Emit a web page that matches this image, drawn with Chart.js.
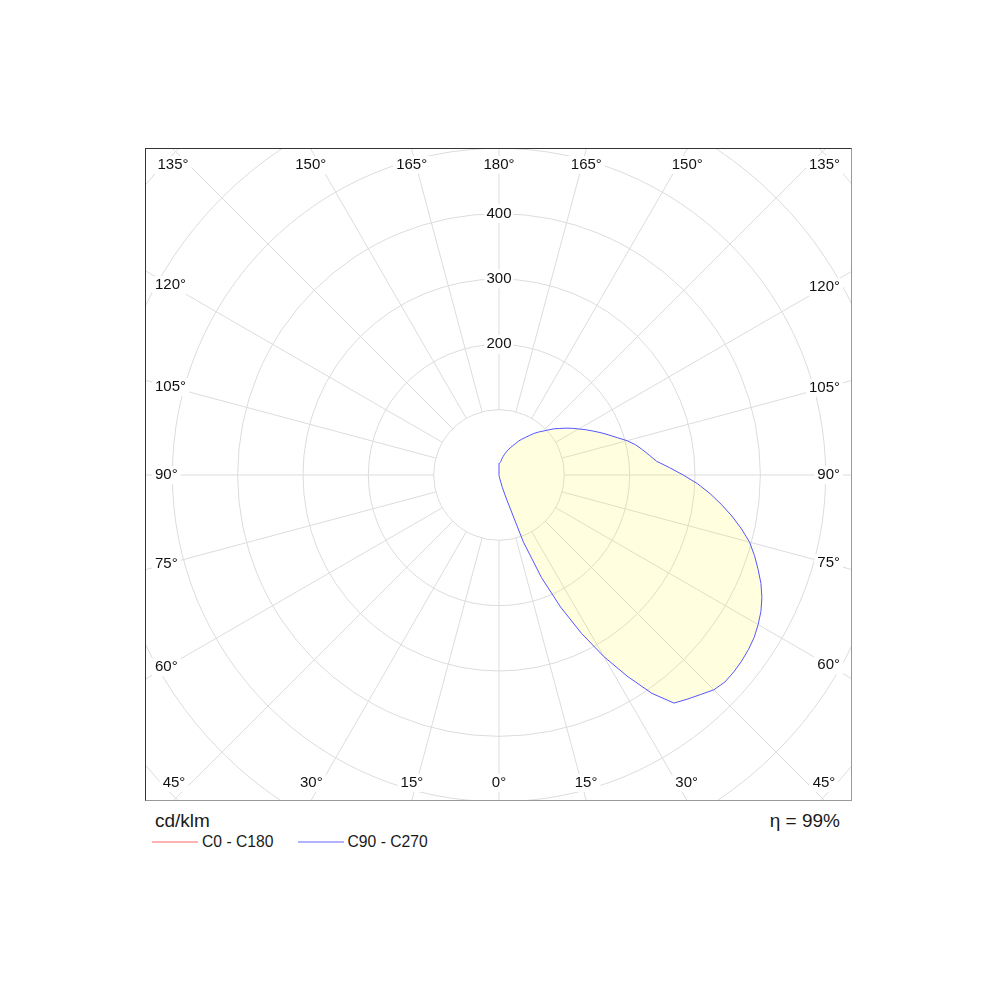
<!DOCTYPE html>
<html>
<head>
<meta charset="utf-8">
<script src="https://cdn.jsdelivr.net/npm/chart.js@4.4.1/dist/chart.umd.min.js"></script>
<style>
  body { margin: 0; background: #fff; font-family: "Liberation Sans", Arial, sans-serif; color: #1a1a1a; }
  #box {
    position: absolute; left: 145px; top: 148px; width: 705px; height: 651px;
    overflow: hidden; border: 1px solid #999; border-top-color: #333; border-left-color: #333;
  }
  #wrap { position: absolute; left: -147px; top: -174px; width: 1000px; height: 1000px; }
  #unit { position: absolute; left: 155px; top: 811px; font-size: 19px; line-height: 19px; }
  #eta { position: absolute; right: 160px; top: 811px; font-size: 19px; line-height: 19px; }
  #legend { position: absolute; left: 152px; top: 834px; font-size: 15.7px; line-height: 15px; display: flex; }
  .item { display: flex; align-items: center; margin-right: 24px; }
  .swatch { width: 46px; height: 0; border-top: 2px solid; margin-right: 4px; opacity: .45; }
</style>
</head>
<body>
<div id="box"><div id="wrap"><canvas id="polar"></canvas></div></div>
<div id="unit">cd/klm</div>
<div id="eta">η = 99%</div>
<div id="legend"></div>
<script>
// gamma angles: C90 half from the top (180) down to 0, then the C270 half from 2.5 back up to 177.5
const gammaC90 = [180, 177.5, 175, 172.5, 170, 167.5, 165, 162.5, 160, 157.5, 155, 152.5, 150, 147.5,
  145, 142.5, 140, 137.5, 135, 132.5, 130, 127.5, 125, 122.5, 120, 117.5, 115, 112.5, 110, 107.5,
  105, 102.5, 100, 97.5, 95, 92.5, 90, 87.5, 85, 82.5, 80, 77.5, 75, 72.5, 70, 67.5, 65, 62.5,
  60, 57.5, 55, 52.5, 50, 47.5, 45, 42.5, 40, 37.5, 35, 32.5, 30, 27.5, 25, 22.5, 20, 17.5,
  15, 12.5, 10, 7.5, 5, 2.5, 0];
const gammaC270 = [2.5, 5, 7.5, 10, 12.5, 15, 17.5, 20, 22.5, 25, 27.5, 30, 32.5, 35, 37.5, 40,
  42.5, 45, 47.5, 50, 52.5, 55, 57.5, 60, 62.5, 65, 67.5, 70, 72.5, 75, 77.5, 80, 82.5, 85,
  87.5, 90, 92.5, 95, 97.5, 100, 102.5, 105, 107.5, 110, 112.5, 115, 117.5, 120, 122.5, 125,
  127.5, 130, 132.5, 135, 137.5, 140, 142.5, 145, 147.5, 150, 152.5, 155, 157.5, 160, 162.5,
  165, 167.5, 170, 172.5, 175, 177.5];

// cd/klm
const c90Values = [18, 18, 19, 21, 25, 29, 33, 37, 41, 45,
  49, 54, 60, 65, 70, 76, 83, 89, 95, 102,
  110, 117, 125, 133, 141, 150, 159, 169, 179, 190,
  203, 214, 223, 232, 242, 261, 282, 304, 324, 343,
  362, 380, 397, 410, 422, 434, 444, 452, 458, 463,
  466, 468, 469, 469, 465, 456, 448, 440, 408, 365,
  321, 273, 223, 170, 109, 40, 20, 6, 3, 1,
  0, 0, 0];
const c270Values = [0, 0, 0, 0, 0, 0, 0, 0, 0, 0, 0, 0, 0, 0, 0, 0, 0, 0, 0, 0, 0, 0, 0, 0,
  0, 0, 0, 0, 0, 0, 0, 0, 0, 0, 0, 0, 0, 0, 0, 0, 0, 0, 0, 0, 0, 0, 0, 0,
  0, 0, 0, 0, 0, 0, 0, 0, 0, 0, 0, 0, 0, 0, 0, 0, 0, 0, 0, 0, 0, 0, 0];
const c0c180Values = []; // no C0-C180 curve shows in the picture

const ringLabels = [200, 300, 400];
const SPOKE_EVERY = 6; // 6 x 2.5 deg = 15 deg

Chart.defaults.font.family = '"Liberation Sans", Arial, sans-serif';

// angle labels sit on the frame, where each 15 deg spoke leaves it
const angleLabels = {
  id: 'angleLabels',
  afterDraw(chart) {
    const r = chart.scales.r;
    const ctx = chart.ctx;
    const box = document.getElementById('box');
    const b = box.getBoundingClientRect(), c = chart.canvas.getBoundingClientRect();
    const L = b.left + box.clientLeft - c.left, T = b.top + box.clientTop - c.top;
    const R = L + box.clientWidth, B = T + box.clientHeight;
    ctx.save();
    ctx.font = '15px "Liberation Sans", Arial, sans-serif';
    ctx.textBaseline = 'middle';
    ctx.textAlign = 'center';
    chart.data.labels.forEach((text, i) => {
      if (i % SPOKE_EVERY) return;
      const p = r.getPointPosition(i, 100);
      let dx = (p.x - r.xCenter) / 100, dy = (p.y - r.yCenter) / 100;
      if (Math.abs(dx) < 1e-6) dx = 0;
      if (Math.abs(dy) < 1e-6) dy = 0;
      const w = ctx.measureText(text).width;
      const tx = dx > 0 ? (R - r.xCenter) / dx : dx < 0 ? (L - r.xCenter) / dx : Infinity;
      const ty = dy > 0 ? (B - r.yCenter) / dy : dy < 0 ? (T - r.yCenter) / dy : Infinity;
      let x, y;
      if (ty <= tx) {
        y = dy < 0 ? T + 16 : B - 17;
        x = Math.min(Math.max(r.xCenter + dx * ty, L + 9 + w / 2), R - 11 - w / 2);
      } else {
        x = dx < 0 ? L + 9 + w / 2 : R - 11 - w / 2;
        y = r.yCenter + dy * (x - r.xCenter) / dx;
      }
      ctx.fillStyle = '#fff';
      ctx.fillRect(x - w / 2 - 3, y - 9, w + 6, 18);
      ctx.fillStyle = '#111';
      ctx.fillText(text, x, y);
    });
    ctx.restore();
  }
};

const chart = new Chart(document.getElementById('polar'), {
  type: 'radar',
  data: {
    labels: gammaC90.concat(gammaC270).map(g => g + '°'),
    datasets: [{
      label: 'C0 - C180',
      data: c0c180Values,
      borderColor: '#ff5555',
      backgroundColor: 'rgba(255,85,85,0.1)',
      borderWidth: 1,
      pointRadius: 0,
      fill: true
    }, {
      label: 'C90 - C270',
      data: c90Values.concat(c270Values),
      borderColor: '#5555ff',
      backgroundColor: 'rgba(255,255,0,0.12)',
      borderWidth: 1,
      pointRadius: 0,
      fill: true
    }]
  },
  options: {
    responsive: true,
    maintainAspectRatio: false,
    animation: false,
    elements: { line: { tension: 0 } },
    plugins: {
      legend: { display: false },
      tooltip: { enabled: false }
    },
    scales: {
      r: {
        min: 0,
        max: 750,
        grid: { circular: true, color: '#dcdcdc' },
        angleLines: {
          color: '#dcdcdc',
          lineWidth: (ctx) => ctx.index % SPOKE_EVERY === 0 ? 1 : 0,
          // spokes start at the 100 ring
          borderDash: (ctx) => [0, ctx.chart.scales.r.getDistanceFromCenterForValue(100), 3000, 0]
        },
        pointLabels: { display: false },
        ticks: {
          stepSize: 100,
          color: '#111',
          font: { size: 15 },
          backdropColor: '#fff',
          backdropPadding: 2,
          showLabelBackdrop: (ctx) => !!ctx.tick && ringLabels.includes(ctx.tick.value),
          callback: (v) => ringLabels.includes(v) ? String(v) : ''
        }
      }
    }
  },
  plugins: [angleLabels]
});

// legend under the frame
const legend = document.getElementById('legend');
chart.data.datasets.forEach(ds => {
  const item = document.createElement('div');
  item.className = 'item';
  const sw = document.createElement('span');
  sw.className = 'swatch';
  sw.style.borderTopColor = ds.borderColor;
  item.appendChild(sw);
  item.appendChild(document.createTextNode(ds.label));
  legend.appendChild(item);
});
</script>
</body>
</html>
